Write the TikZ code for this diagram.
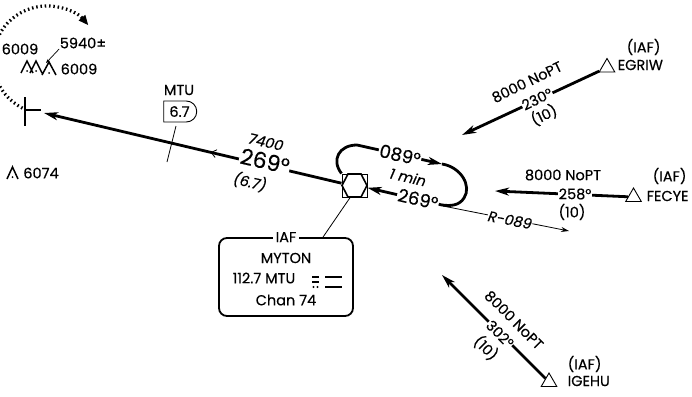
\documentclass[tikz,border=0pt]{standalone}
\usepackage{fontspec}
\setmainfont{Poppins}[FakeBold=0.4]
\usetikzlibrary{arrows.meta,decorations.markings,shapes.geometric,shapes.misc}
\begin{document}
\begin{tikzpicture}[x=1pt,y=-1pt,
  lbl/.style={inner sep=0.5pt, font=\fontsize{14.5}{16}\selectfont},
  ilbl/.style={inner sep=0.5pt, font=\fontsize{14.5}{16}\selectfont\itshape},
  big/.style={inner sep=1pt, font=\fontsize{22}{24}\selectfont, fill=white},
  hbig/.style={inner sep=1pt, font=\fontsize{18}{20}\selectfont, fill=white},
  crs/.style={line width=2.8pt},
  tip/.style={-{Stealth[length=14pt,width=8pt,inset=4pt]}},
  iaf/.style={draw, regular polygon, regular polygon sides=3, minimum size=18pt, inner sep=0pt, line width=0.9pt},
  thinl/.style={line width=0.8pt},
]
\useasboundingbox (0,0) rectangle (692,396);
\clip (0,0) rectangle (692,396);
\fill[white] (0,0) rectangle (692,396);

% ---- top-left: dotted procedure turn arc, terrain
\coordinate (cc) at (47,60);
\draw[line width=3.2pt, dash pattern=on 1.5pt off 2.8pt, -{Triangle[length=10pt,width=8pt]}]
  ([shift={(117:54)}]cc) arc[start angle=117,end angle=320,radius=54];
\node[lbl] (t6009a) at (20,49) {6009};
\node[lbl] (t5940) at (83,43) {5940±};
\node[lbl] (t6009b) at (79,69) {6009};
\draw[line width=1.5pt] (21,73) -- (27,61) -- (33,73) (30,73) -- (36,61) -- (42,73) (42,75) -- (49,62) -- (56,75);
\fill (27,71) circle (1) (36,71) circle (1) (49,73) circle (1);
\draw[line width=0.7pt, -{Stealth[length=4pt,width=3pt]}] (t5940.south west) -- (46,63);
\draw[line width=1.5pt] (7,179) -- (12.5,167) -- (18,179);
\fill (12.5,177) circle (1);
\node[lbl] (t6074) at (41,173) {6074};

% ---- runway
\draw[line width=2pt] (25,97) -- (25,126);
\draw[line width=2pt] (25,110) -- (41,110);

% ---- fix
\node[draw, minimum width=25pt, minimum height=23pt, inner sep=0pt, line width=1pt] (fix) at (354.5,185.5) {};
\draw[line width=1.6pt] (342,185.5) -- (348,174) -- (361,174) -- (367,185.5) -- (361,197) -- (348,197) -- cycle;

% ---- main course
\coordinate (rtip) at (44,113);
\draw[crs, tip, postaction={decorate}, decoration={markings, mark=at position 0.44 with {\arrow{Straight Barb[length=5pt,width=8pt,line width=0.8pt]}}}] (fix.170) -- (rtip);
\node[big, rotate=-13] (c269) at (265,161) {269°};
\node[ilbl, rotate=-13] (alt) at (266,142) {7400};
\node[ilbl, rotate=-13] (dist) at (250,182) {(6.7)};

% ---- MTU fix
\node[lbl] (mtu) at (179,90) {MTU};
\node[draw, rounded rectangle, rounded rectangle left arc=none, minimum height=21pt, minimum width=35pt, inner sep=1pt, line width=0.9pt, font=\fontsize{14.5}{16}\selectfont] (mtubox) at (179.5,111.5) {6.7};
\coordinate (tk1) at (176,126);
\coordinate (tk2) at (167,162);
\draw[thinl] (tk1) -- (tk2);

% ---- holding
\coordinate (h1) at (357,145);
\coordinate (h2) at (442,164);
\coordinate (h3) at (442,205);
\draw[crs] (fix.north west) .. controls (331,160) and (339,145) .. (h1);
\draw[crs, tip] (h1) -- (h2);
\draw[crs] (h2) .. controls (461,167) and (472,186) .. (464,198) .. controls (459,206) and (450,206) .. (h3);
\draw[crs, tip] (h3) -- (fix.-10);
\node[hbig, rotate=-13] (h089) at (400,155) {089°};
\node[hbig, rotate=-13] (h269) at (418,199) {269°};
\node[ilbl, rotate=-13] (hmin) at (408,177) {1 min};

% ---- radial
\coordinate (r1) at (443,206);
\coordinate (r2) at (569,231);
\draw[thinl, -{Stealth[length=8pt,width=5pt]}] (r1) -- (r2);
\node[ilbl, fill=white, rotate=-11] (rlbl) at (510,220) {R-089};

% ---- IAF box
\node[draw, rounded corners=8pt, line width=1.8pt, minimum width=134pt, minimum height=78pt] (iafbox) at (286,277) {};
\node[lbl, fill=white, inner xsep=3pt] (iaflbl) at (iafbox.north) {IAF};
\node[lbl] (myton) at (286,258) {MYTON};
\node[lbl] (freq) at (264,278) {112.7 MTU};
\node[lbl] (chan) at (286,300) {Chan 74};
\draw[line width=2pt] (312,277) -- (319,277) (325,277) -- (342,277) (312,282) -- (319,282) (325,287) -- (342,287);
\fill (313.5,287) circle (1.1) (317.5,287) circle (1.1);
\draw[thinl] ([xshift=37pt]iafbox.north) -- (fix.250);

% ---- EGRIW
\node[iaf] (egriw) at (607,67.5) {};
\node[lbl, anchor=west] (egriwi) at (626,47) {(IAF)};
\node[lbl, anchor=west] (egriwn) at (617,65) {EGRIW};
\coordinate (etip) at (462,135);
\draw[crs, tip] (egriw) -- (etip);
\node[lbl, rotate=26] (ealt) at (527,82) {8000 NoPT};
\node[lbl, fill=white, rotate=26] (ecrs) at (537,99) {230°};
\node[lbl, rotate=26] (edist) at (544,115) {(10)};

% ---- FECYE
\node[iaf] (fecye) at (633.5,197) {};
\node[lbl, anchor=west] (fecyei) at (652,176) {(IAF)};
\node[lbl, anchor=west] (fecyen) at (646,196) {FECYE};
\coordinate (ftip) at (495,191);
\draw[crs, tip] (fecye) -- (ftip);
\node[lbl] (falt) at (563,175) {8000 NoPT};
\node[lbl, fill=white] (fcrs) at (575,194) {258°};
\node[lbl] (fdist) at (572,212) {(10)};

% ---- IGEHU
\node[iaf] (igehu) at (549,382) {};
\node[lbl, anchor=west] (igehui) at (567,364) {(IAF)};
\node[lbl, anchor=west] (igehun) at (567,381) {IGEHU};
\coordinate (gtip) at (442,275);
\draw[crs, tip] (igehu) -- (gtip);
\node[lbl, rotate=-45] (galt) at (514,320) {8000 NoPT};
\node[lbl, fill=white, rotate=-45] (gcrs) at (500,334) {302°};
\node[lbl, rotate=-45] (gdist) at (486,348) {(10)};
\end{tikzpicture}
\end{document}
